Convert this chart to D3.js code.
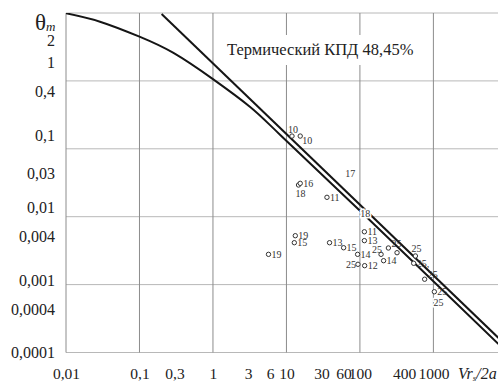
<!DOCTYPE html>
<html>
<head>
<meta charset="utf-8">
<script src="https://cdn.jsdelivr.net/npm/d3@7"></script>
<style>
  body { margin: 0; background: #fff; }
  svg { display: block; font-family: "Liberation Serif", "Times New Roman", "DejaVu Serif", serif; }
</style>
</head>
<body>
<div id="chart"></div>
<script>
// tick labels (as printed on the figure)
const xTicks = [0.01, 0.1, 0.3, 1, 3, 6, 10, 30, 60, 100, 400, 1000];
const yTicks = [0.0001, 0.0004, 0.001, 0.004, 0.01, 0.03, 0.1, 0.4, 1, 2];
const xGrid = [0.01, 0.1, 1, 10, 100, 1000];
const yGrid = [0.0001, 0.001, 0.01, 0.1, 1, 10];

// thermal efficiency curve
const curveX = [0.01, 0.029, 0.1, 0.29, 1.0, 3.21, 8.24, 101, 1285, 7690];
const curveY = [9.9, 7.45, 4.48, 2.58, 1.06, 0.413, 0.16, 0.0121, 0.00086, 0.000133];

// straight asymptote
const lineX = [0.2, 7690];
const lineY = [9.66, 0.000164];

// experiment points: x, theta, label, where the label sits
const points = [
  [11.9, 0.154, "10", "a"],
  [15.4, 0.154, "10", "br"],
  [14.6, 0.0293, "18", "b"],
  [15.4, 0.031, "16", "r"],
  [35.6, 0.0193, "11", "r"],
  [5.7, 0.00279, "19", "r"],
  [13.2, 0.00525, "19", "r"],
  [12.8, 0.00414, "15", "r"],
  [38.6, 0.00414, "13", "r"],
  [60, 0.00349, "15", "r"],
  [93, 0.00279, "14", "r"],
  [94, 0.00199, "25", "l"],
  [116, 0.0019, "12", "r"],
  [115, 0.0060, "11", "r"],
  [115, 0.00444, "13", "r"],
  [194, 0.00279, "25", "al"],
  [210, 0.00225, "14", "r"],
  [244, 0.00346, "25", "ar"],
  [320, 0.00295, "", ""],
  [569, 0.00264, "25", "a"],
  [539, 0.00206, "25,", "r"],
  [760, 0.0012, "25", "ar"],
  [1030, 0.000785, "25", "r"]
];
// labels without a visible marker
const notes = [
  [74, 0.044, "17"],
  [118.6, 0.011, "18"],
  [1170, 0.000536, "25"]
];

const width = 498, height = 382;
const mLeft = 66, mTop = 13, mBottom = 352.5;

const svg = d3.select("#chart").append("svg")
  .attr("width", width)
  .attr("height", height);

const x = d3.scaleLog().domain([0.01, 1000]).range([mLeft, 433.4]);
const y = d3.scaleLog().domain([0.0001, 10]).range([mBottom, mTop]);
// the printed y labels don't sit exactly on the grid, they follow their own spacing
const yLab = d3.scaleLog().domain([0.0001, 2]).range([352.7, 40.5]);

// grid
svg.append("g").selectAll("line")
  .data(yGrid)
  .join("line")
    .attr("x1", mLeft).attr("x2", width)
    .attr("y1", d => y(d)).attr("y2", d => y(d))
    .attr("stroke", "#b8b8b8").attr("stroke-width", 1);

svg.append("g").selectAll("line")
  .data(xGrid)
  .join("line")
    .attr("x1", d => x(d)).attr("x2", d => x(d))
    .attr("y1", mTop).attr("y2", mBottom)
    .attr("stroke", "#8c8c8c").attr("stroke-width", 1);

// annotation box (hides the grid behind it)
svg.append("rect")
  .attr("x", 222).attr("y", 35).attr("width", 204).attr("height", 30)
  .attr("fill", "#fff");
svg.append("text")
  .attr("x", 227).attr("y", 55)
  .attr("font-size", 16.5)
  .attr("fill", "#222")
  .text("Термический КПД 48,45%");

const fmt = d => String(d).replace(".", ",");

// axes
const xAxis = svg.append("g")
  .attr("transform", `translate(0,${mBottom})`)
  .call(d3.axisBottom(x).tickValues(xTicks).tickFormat(fmt).tickSize(0).tickPadding(15));
const yAxis = svg.append("g")
  .attr("transform", `translate(${mLeft},0)`)
  .call(d3.axisLeft(yLab).tickValues(yTicks).tickFormat(fmt).tickSize(0).tickPadding(11));
[xAxis, yAxis].forEach(g => {
  g.select(".domain").remove();
  g.attr("font-family", null);
  g.selectAll("text")
    .attr("font-size", 16)
    .attr("fill", "#222");
});
xAxis.selectAll("text").attr("font-size", 15.5);

// axis names
const th = svg.append("text").attr("x", 35).attr("y", 30).attr("fill", "#222");
th.append("tspan").attr("font-size", 23).text("θ");
th.append("tspan").attr("font-size", 13).attr("font-style", "italic").attr("dy", 1).text("m");

const xt = svg.append("text").attr("x", 458).attr("y", 379)
  .attr("font-size", 16).attr("font-style", "italic").attr("fill", "#222");
xt.append("tspan").text("Vr");
xt.append("tspan").attr("font-size", 9).attr("dy", 2).text("s");
xt.append("tspan").attr("dy", -2).text("/2a");

// curves
svg.append("clipPath").attr("id", "plot")
  .append("rect").attr("x", mLeft).attr("y", mTop)
  .attr("width", width - mLeft).attr("height", mBottom - mTop);

const plot = svg.append("g").attr("clip-path", "url(#plot)");

const curve = d3.line()
  .x(d => x(d[0]))
  .y(d => y(d[1]))
  .curve(d3.curveNatural);

plot.append("path")
  .datum(curveX.map((v, i) => [v, curveY[i]]))
  .attr("d", curve)
  .attr("fill", "none")
  .attr("stroke", "#151515")
  .attr("stroke-width", 2);

plot.append("path")
  .datum(lineX.map((v, i) => [v, lineY[i]]))
  .attr("d", d3.line().x(d => x(d[0])).y(d => y(d[1])))
  .attr("fill", "none")
  .attr("stroke", "#151515")
  .attr("stroke-width", 2);

// points
const pts = svg.append("g");
pts.selectAll("circle")
  .data(points)
  .join("circle")
    .attr("cx", d => x(d[0]))
    .attr("cy", d => y(d[1]))
    .attr("r", 2.2)
    .attr("fill", "#fff")
    .attr("stroke", "#333")
    .attr("stroke-width", 1);

const off = {
  r: [3, 3.5, "start"],
  br: [2, 8, "start"],
  a: [-4, -3.5, "start"],
  ar: [3, -1, "start"],
  al: [1, -1, "end"],
  l: [-2, 3.5, "end"],
  b: [-3, 12, "start"]
};

pts.selectAll("text")
  .data(points.filter(d => d[2]))
  .join("text")
    .attr("x", d => x(d[0]) + off[d[3]][0])
    .attr("y", d => y(d[1]) + off[d[3]][1])
    .attr("text-anchor", d => off[d[3]][2])
    .attr("font-size", 10)
    .attr("fill", "#333")
    .text(d => d[2]);

svg.append("g").selectAll("text")
  .data(notes)
  .join("text")
    .attr("x", d => x(d[0]))
    .attr("y", d => y(d[1]))
    .attr("text-anchor", "middle")
    .attr("dy", "0.35em")
    .attr("font-size", 10)
    .attr("fill", "#333")
    .attr("stroke", "#fff")
    .attr("stroke-width", 3)
    .attr("paint-order", "stroke")
    .text(d => d[2]);
</script>
</body>
</html>
